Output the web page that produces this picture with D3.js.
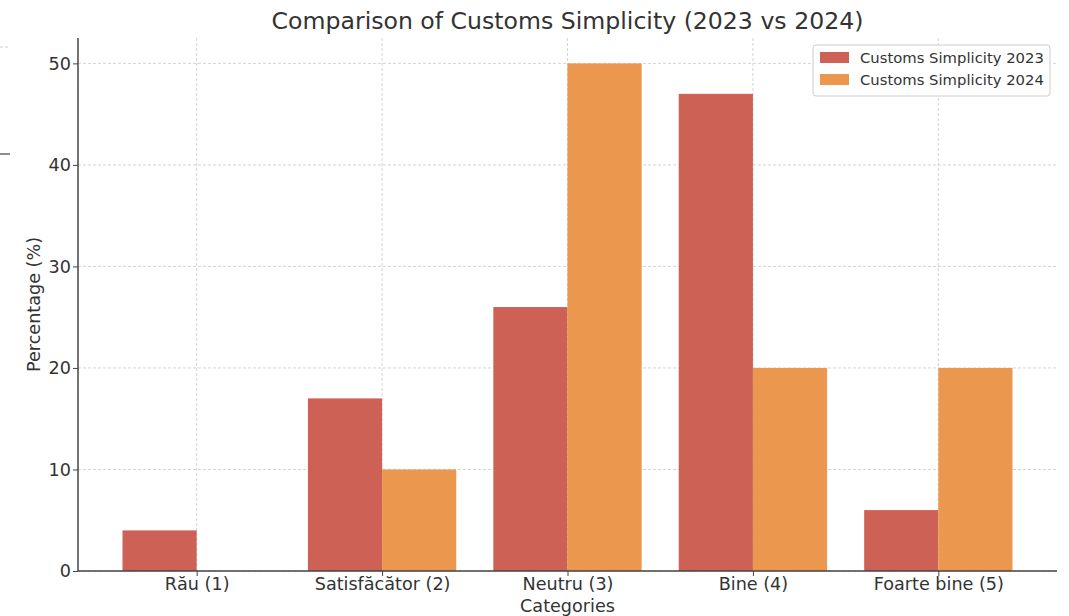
<!DOCTYPE html>
<html>
<head>
<meta charset="utf-8">
<script src="https://cdn.jsdelivr.net/npm/d3@7"></script>
<style>
  html, body { margin: 0; padding: 0; background: #fff; }
  svg { display: block; font-family: "DejaVu Sans", sans-serif; }
</style>
</head>
<body>
<svg id="chart" width="1069" height="616"></svg>
<script>
// Survey categories and the share of answers per year (%)
const categories = ["Rău (1)", "Satisfăcător (2)", "Neutru (3)", "Bine (4)", "Foarte bine (5)"];
const values2023 = [4, 17, 26, 47, 6];
const values2024 = [0, 10, 50, 20, 20];
const seriesNames = ["Customs Simplicity 2023", "Customs Simplicity 2024"];
const seriesColors = ["#cd6155", "#eb984e"];
const yTicks = [0, 10, 20, 30, 40, 50];

const svg = d3.select("#chart");
const margin = { left: 78, right: 1057, top: 38, bottom: 571 };

const barW = 0.4;
const x = d3.scaleLinear().domain([-0.64, 4.64]).range([margin.left, margin.right]);
const y = d3.scaleLinear().domain([0, 52.5]).range([margin.bottom, margin.top]);

const gridColor = "#cfcfcf";
const axisColor = "#444";
const textColor = "#333";

// stray edge fragments along the left border
svg.append("line").attr("x1", 0).attr("x2", 10).attr("y1", 47).attr("y2", 47)
  .attr("stroke", gridColor).attr("stroke-dasharray", "3,2");
svg.append("line").attr("x1", 0).attr("x2", 10).attr("y1", 154).attr("y2", 154)
  .attr("stroke", axisColor).attr("stroke-width", 1.2);

// grid
const grid = svg.append("g");
yTicks.forEach(t => {
  grid.append("line").attr("x1", margin.left).attr("x2", margin.right)
    .attr("y1", y(t)).attr("y2", y(t))
    .attr("stroke", gridColor).attr("stroke-width", 0.9).attr("stroke-dasharray", "3,2");
});
categories.forEach((c, i) => {
  grid.append("line").attr("x1", x(i)).attr("x2", x(i))
    .attr("y1", margin.top).attr("y2", margin.bottom)
    .attr("stroke", gridColor).attr("stroke-width", 0.9).attr("stroke-dasharray", "3,2");
});

// bars
const series = [values2023, values2024];
series.forEach((vals, s) => {
  svg.append("g").selectAll("rect").data(vals).enter().append("rect")
    .attr("x", (d, i) => x(i + (s === 0 ? -barW : 0)))
    .attr("width", x(barW) - x(0))
    .attr("y", d => y(d))
    .attr("height", d => y(0) - y(d))
    .attr("fill", seriesColors[s]);
});

// axes
const xAxis = d3.axisBottom(x).tickValues(d3.range(categories.length))
  .tickFormat(i => categories[i]).tickSize(5).tickPadding(2);
const yAxis = d3.axisLeft(y).tickValues(yTicks).tickSize(5).tickPadding(2);

const gx = svg.append("g").attr("transform", `translate(0,${margin.bottom})`).call(xAxis);
const gy = svg.append("g").attr("transform", `translate(${margin.left},0)`).call(yAxis);
[gx, gy].forEach(g => {
  g.select(".domain").attr("stroke", axisColor).attr("stroke-width", 1.5);
  g.selectAll(".tick line").attr("stroke", axisColor).attr("stroke-width", 1);
  g.selectAll(".tick text").attr("fill", textColor).attr("font-size", 17.6)
    .attr("font-family", "DejaVu Sans, sans-serif");
});
gx.select(".domain").attr("d", `M${margin.left},0H${margin.right}`);
gy.select(".domain").attr("d", `M0,${margin.bottom}V${margin.top}`);

// labels
svg.append("text").attr("x", (margin.left + margin.right) / 2).attr("y", 29)
  .attr("text-anchor", "middle").attr("font-size", 23.6).attr("fill", textColor)
  .text("Comparison of Customs Simplicity (2023 vs 2024)");
svg.append("text").attr("x", (margin.left + margin.right) / 2).attr("y", 612)
  .attr("text-anchor", "middle").attr("font-size", 17.6).attr("fill", textColor)
  .text("Categories");
svg.append("text").attr("transform", `translate(40,${(margin.top + margin.bottom) / 2}) rotate(-90)`)
  .attr("text-anchor", "middle").attr("font-size", 17.6).attr("fill", textColor)
  .text("Percentage (%)");

// legend
const lg = svg.append("g").attr("transform", "translate(813,45)");
lg.append("rect").attr("width", 237).attr("height", 51).attr("rx", 3)
  .attr("fill", "#fff").attr("fill-opacity", 0.85)
  .attr("stroke", "#ccc").attr("stroke-width", 1);
seriesNames.forEach((n, i) => {
  lg.append("rect").attr("x", 7).attr("y", 7 + i * 22).attr("width", 29).attr("height", 11)
    .attr("fill", seriesColors[i]);
  lg.append("text").attr("x", 47).attr("y", 17.5 + i * 22).attr("font-size", 14.8)
    .attr("fill", textColor).text(n);
});
</script>
</body>
</html>
